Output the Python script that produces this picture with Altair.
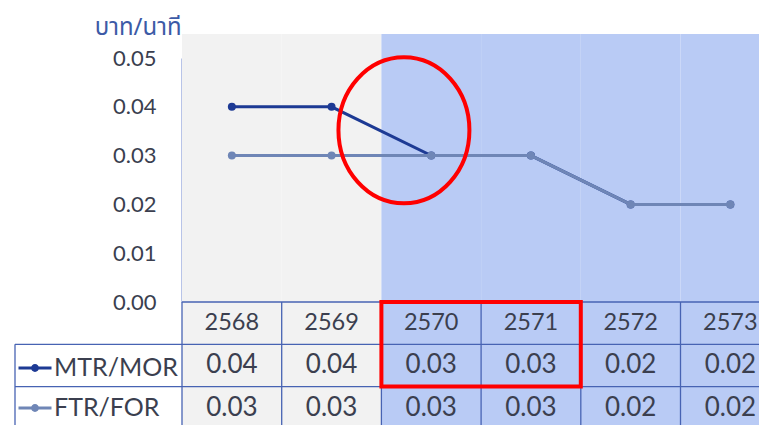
import altair as alt
import pandas as pd

# ---- data ----
years = ["2568", "2569", "2570", "2571", "2572", "2573"]
mtr_values = [0.04, 0.04, 0.03, 0.03, 0.02, 0.02]
ftr_values = [0.03, 0.03, 0.03, 0.03, 0.02, 0.02]
periods = ["current", "current", "new", "new", "new", "new"]
series_names = ["MTR/MOR", "FTR/FOR"]
table_rows = ["year", "MTR/MOR", "FTR/FOR"]
y_ticks = [0.0, 0.01, 0.02, 0.03, 0.04, 0.05]
unit_label = "บาท/นาที"
highlight_years = ["2570", "2571"]
ellipse_year = "2570"
ellipse_value = 0.0352

# ---- style ----
TEXT = "#3b3f4f"
FONT = "Lato"
GRID = "#4763b3"
W, H = 577, 391
BAND = 99.7

x_scale = alt.Scale(type="band", domain=years, range=[0, BAND * 6], paddingInner=0, paddingOuter=0)
y_scale = alt.Scale(domain=[0, 0.05], range=[268, 24], nice=False, zero=False)
row_scale = alt.Scale(type="band", domain=table_rows, range=[268, 268 + 3 * 42.3], paddingInner=0, paddingOuter=0)
color_scale = alt.Scale(domain=series_names, range=["#1d3a94", "#6f86b6"])

legend_path = "M-1,0L1,0M0.15,0A0.15,0.15 0 1,1 -0.15,0A0.15,0.15 0 1,1 0.15,0"
legend = alt.Legend(title=None, orient="none", legendX=-165, legendY=316, direction="vertical",
                    symbolType=legend_path, symbolSize=1089, symbolStrokeWidth=3,
                    labelFont=FONT, labelFontSize=25, labelColor=TEXT, labelOffset=1,
                    rowPadding=9, padding=0, labelLimit=300)

y_axis = alt.Axis(values=y_ticks, format=".2f", title=unit_label, titleAngle=0, titleX=-1, titleY=0,
                  titleAlign="right", titleBaseline="alphabetic",
                  titleFont="Noto Sans Thai, Tahoma, Noto Sans, sans-serif",
                  titleFontSize=24, titleFontWeight="normal", titleColor="#3c5aa6",
                  labelFont=FONT, labelFontSize=22, labelColor=TEXT, labelPadding=26,
                  ticks=False, tickSize=0, grid=False, domainColor="#7189d0", domainWidth=2)

# ---- background ----
bg_df = pd.DataFrame({"year": years, "period": periods})
bg = alt.Chart(bg_df).mark_rect().encode(
    x=alt.X("year:N", scale=x_scale, axis=None),
    y=alt.value(0), y2=alt.value(H),
    fill=alt.Fill("period:N", scale=alt.Scale(domain=["current", "new"], range=["#f2f2f2", "#b9cbf5"]), legend=None),
)

# ---- lines ----
line_df = pd.DataFrame({
    "year": years * 2,
    "value": mtr_values + ftr_values,
    "series": [s for s in series_names for _ in years],
})
base = alt.Chart(line_df)


def series_layers(name):
    b = base.transform_filter(alt.datum.series == name)
    enc = dict(
        x=alt.X("year:N", scale=x_scale, axis=None),
        y=alt.Y("value:Q", scale=y_scale, axis=y_axis),
        color=alt.Color("series:N", scale=color_scale, legend=legend),
    )
    return [b.mark_line(strokeWidth=3).encode(**enc),
            b.mark_point(filled=True, size=64, opacity=1).encode(**enc)]


ellipse_path = "M-0.897,0A0.897,1 0 1,0 0.897,0A0.897,1 0 1,0 -0.897,0Z"
ell_df = pd.DataFrame({"year": [ellipse_year], "value": [ellipse_value]})
ellipse = alt.Chart(ell_df).mark_point(shape=ellipse_path, size=21316, filled=False, stroke="#ff0000",
                                       strokeWidth=4, opacity=1).encode(
    x=alt.X("year:N", scale=x_scale, axis=None, bandPosition=0.226),
    y=alt.Y("value:Q", scale=y_scale, axis=y_axis),
)

plot_layer = alt.layer(*series_layers("MTR/MOR"), *series_layers("FTR/FOR"), ellipse)

# ---- table ----
cells = []
for i, yr in enumerate(years):
    cells.append({"year": yr, "row": "year", "label": yr, "fs": 23.5})
    cells.append({"year": yr, "row": "MTR/MOR", "label": f"{mtr_values[i]:.2f}", "fs": 26})
    cells.append({"year": yr, "row": "FTR/FOR", "label": f"{ftr_values[i]:.2f}", "fs": 26})
cells_df = pd.DataFrame(cells)

texts = alt.Chart(cells_df).mark_text(font=FONT, color=TEXT, baseline="middle").encode(
    x=alt.X("year:N", scale=x_scale, axis=None),
    y=alt.Y("row:N", scale=row_scale, axis=None),
    text="label:N",
    size=alt.Size("fs:Q", scale=None, legend=None),
)

col_df = pd.DataFrame({"year": years, "top": table_rows[0], "bottom": table_rows[-1]})
col_rules = alt.Chart(col_df).mark_rule(color=GRID, strokeWidth=1.3).encode(
    x=alt.X("year:N", scale=x_scale, axis=None, bandPosition=0),
    y=alt.Y("top:N", scale=row_scale, axis=None, bandPosition=0),
    y2=alt.Y2("bottom:N", bandPosition=1),
)

head_df = pd.DataFrame({"row": [table_rows[0]], "start": [years[0]]})
head_rule = alt.Chart(head_df).mark_rule(color=GRID, strokeWidth=1.3).encode(
    x=alt.X("start:N", scale=x_scale, axis=None, bandPosition=0),
    x2=alt.value(W),
    y=alt.Y("row:N", scale=row_scale, axis=None, bandPosition=0),
)

row_df = pd.DataFrame({"row": table_rows[1:]})
row_rules = alt.Chart(row_df).mark_rule(color=GRID, strokeWidth=1.3).encode(
    x=alt.value(-167), x2=alt.value(W),
    y=alt.Y("row:N", scale=row_scale, axis=None, bandPosition=0),
)
left_border = alt.Chart(pd.DataFrame({"row": [table_rows[1]]})).mark_rule(color=GRID, strokeWidth=1.3).encode(
    x=alt.value(-167),
    y=alt.Y("row:N", scale=row_scale, axis=None, bandPosition=0),
    y2=alt.value(H),
)

box_df = pd.DataFrame({"x1": [highlight_years[0]], "x2": [highlight_years[-1]],
                       "r1": [table_rows[0]], "r2": [table_rows[1]]})
red_box = alt.Chart(box_df).mark_rect(fillOpacity=0, stroke="#ff0000", strokeWidth=4).encode(
    x=alt.X("x1:N", scale=x_scale, axis=None, bandPosition=0),
    x2=alt.X2("x2:N", bandPosition=1),
    y=alt.Y("r1:N", scale=row_scale, axis=None, bandPosition=0),
    y2=alt.Y2("r2:N", bandPosition=1),
)

table_layer = alt.layer(col_rules, head_rule, row_rules, left_border, texts, red_box)

chart = alt.layer(bg, table_layer, plot_layer).resolve_scale(y="independent").properties(
    width=W, height=H,
    padding={"left": 174, "top": 26, "right": 0, "bottom": 0},
    autosize=alt.AutoSizeParams(type="none"),
    background="white",
).configure_view(stroke=None)

chart.save("out.html", embed_options={"renderer": "svg", "actions": False})
